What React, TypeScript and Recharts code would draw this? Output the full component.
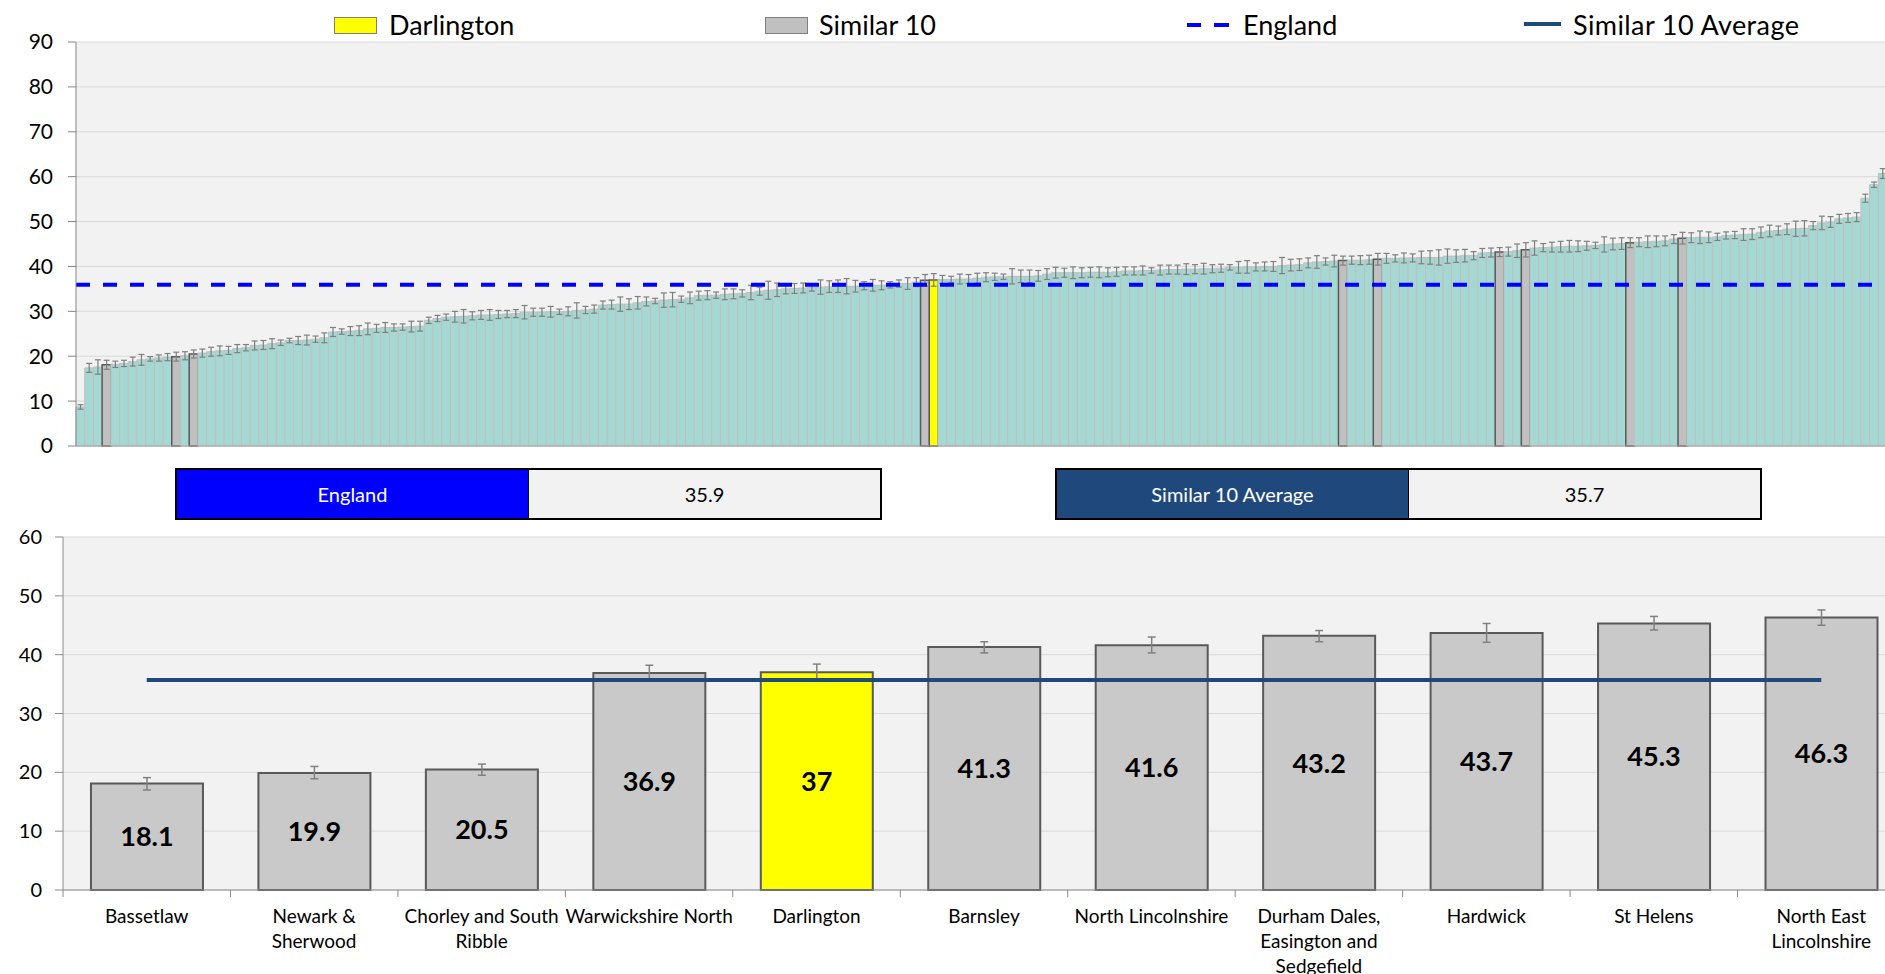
import {
  Bar,
  CartesianGrid,
  Cell,
  ComposedChart,
  ErrorBar,
  LabelList,
  Line,
  ReferenceLine,
  XAxis,
  YAxis,
} from 'recharts';

const englandValue = 35.9;
const similarAverage = 35.7;

// every area, sorted low to high
const allAreaValues = [
  8.7, 17.4, 17.6, 18.1, 18.2, 18.4, 18.8, 19.2, 19.4, 19.6,
  19.8, 19.9, 20.1, 20.5, 20.7, 21.0, 21.2, 21.3, 21.7, 21.9,
  22.4, 22.5, 22.8, 23.0, 23.5, 23.5, 23.6, 23.8, 24.1, 25.4,
  25.5, 25.6, 25.7, 26.1, 26.2, 26.4, 26.4, 26.5, 26.6, 26.7,
  28.0, 28.4, 28.7, 28.8, 28.9, 29.0, 29.2, 29.2, 29.3, 29.4,
  29.5, 29.8, 29.8, 29.8, 29.9, 29.9, 30.0, 30.2, 30.3, 30.5,
  31.4, 31.5, 31.6, 31.6, 31.9, 32.2, 32.3, 32.5, 32.6, 32.7,
  33.0, 33.5, 33.6, 33.6, 33.8, 33.9, 34.0, 34.2, 34.5, 34.7,
  34.8, 35.0, 35.1, 35.2, 35.3, 35.4, 35.5, 35.6, 35.6, 35.6,
  35.7, 35.8, 35.8, 35.9, 36.2, 36.2, 36.5, 36.9, 37.0, 37.1,
  37.1, 37.2, 37.2, 37.4, 37.6, 37.7, 37.7, 37.8, 37.8, 37.8,
  37.9, 38.3, 38.6, 38.6, 38.6, 38.6, 38.7, 38.7, 38.7, 38.8,
  39.0, 39.0, 39.1, 39.1, 39.2, 39.3, 39.3, 39.4, 39.4, 39.5,
  39.5, 39.6, 39.8, 39.8, 39.9, 39.9, 40.0, 40.0, 40.2, 40.3,
  40.4, 40.8, 41.0, 41.1, 41.2, 41.3, 41.4, 41.4, 41.5, 41.6,
  41.8, 41.8, 41.9, 41.9, 42.0, 42.0, 42.0, 42.3, 42.3, 42.4,
  42.4, 43.0, 43.1, 43.2, 43.3, 43.5, 43.7, 44.1, 44.2, 44.3,
  44.4, 44.5, 44.5, 44.6, 44.7, 44.9, 45.0, 45.1, 45.3, 45.4,
  45.5, 45.6, 45.7, 46.1, 46.3, 46.4, 46.5, 46.5, 46.6, 46.9,
  47.0, 47.1, 47.2, 47.6, 47.9, 48.0, 48.3, 48.4, 48.5, 49.1,
  49.7, 49.9, 50.6, 50.8, 51.0, 55.2, 58.2, 60.7,
];

// half width of the confidence interval for each area
const allAreaCi = [
  0.5, 1.0, 1.6, 1.0, 0.7, 0.7, 1.0, 1.2, 0.5, 0.7,
  0.8, 1.0, 0.9, 0.9, 0.9, 1.0, 1.1, 0.9, 0.9, 0.7,
  1.0, 1.0, 1.1, 0.6, 0.5, 0.9, 1.1, 0.7, 1.1, 1.0,
  0.6, 1.0, 1.1, 1.3, 0.9, 1.1, 0.8, 0.7, 1.2, 1.1,
  0.7, 0.7, 0.7, 1.2, 1.5, 0.9, 1.0, 1.2, 0.9, 0.8,
  0.9, 1.5, 0.9, 0.9, 1.2, 0.6, 1.0, 1.7, 0.8, 0.9,
  0.9, 1.0, 1.6, 1.2, 1.4, 1.0, 0.6, 1.6, 1.6, 0.7,
  1.3, 1.0, 1.0, 0.7, 1.2, 1.1, 0.8, 1.6, 0.9, 2.0,
  1.5, 1.1, 1.1, 1.1, 0.8, 1.6, 1.3, 1.4, 1.7, 1.3,
  0.9, 1.3, 1.0, 0.7, 0.8, 1.3, 1.0, 1.3, 1.4, 0.9,
  0.7, 1.1, 1.0, 1.1, 1.0, 0.8, 0.6, 1.7, 1.4, 1.4,
  1.2, 1.2, 1.2, 1.0, 1.3, 1.1, 1.1, 1.2, 1.0, 1.0,
  0.9, 0.9, 1.0, 0.6, 1.1, 1.0, 1.0, 1.2, 1.0, 1.2,
  0.9, 0.9, 0.6, 1.3, 1.4, 0.9, 1.0, 1.1, 1.8, 1.3,
  1.3, 1.1, 1.4, 0.8, 1.3, 1.0, 0.9, 1.0, 1.0, 1.3,
  1.1, 0.8, 1.1, 0.9, 1.4, 1.5, 1.7, 1.6, 1.4, 1.4,
  0.9, 1.0, 1.0, 1.0, 1.0, 1.5, 1.6, 1.6, 0.9, 1.1,
  1.2, 1.3, 1.2, 1.0, 0.7, 1.7, 1.3, 1.3, 1.1, 1.0,
  1.3, 1.2, 1.1, 1.0, 1.3, 1.1, 1.4, 1.2, 0.8, 0.8,
  0.8, 1.3, 1.2, 1.2, 1.3, 1.0, 1.2, 1.7, 1.7, 0.9,
  1.5, 1.2, 1.0, 1.0, 1.0, 0.9, 0.6, 1.1,
];

const similarRanks = [3, 11, 13, 97, 145, 149, 163, 166, 178, 184];
const darlingtonRank = 98;

const similarNames = [
  'Bassetlaw', 'Newark & Sherwood', 'Chorley and South Ribble', 'Warwickshire North',
  'Darlington', 'Barnsley', 'North Lincolnshire', 'Durham Dales, Easington and Sedgefield',
  'Hardwick', 'St Helens', 'North East Lincolnshire',
];
const similarTickLines = [
  ['Bassetlaw'], ['Newark &', 'Sherwood'], ['Chorley and South', 'Ribble'], ['Warwickshire North'],
  ['Darlington'], ['Barnsley'], ['North Lincolnshire'], ['Durham Dales,', 'Easington and', 'Sedgefield'],
  ['Hardwick'], ['St Helens'], ['North East', 'Lincolnshire'],
];
const similarValues = [18.1, 19.9, 20.5, 36.9, 37, 41.3, 41.6, 43.2, 43.7, 45.3, 46.3];
const similarLow = [17.0, 18.9, 19.5, 35.6, 35.6, 40.3, 40.3, 42.2, 42.1, 44.2, 45.0];
const similarHigh = [19.1, 21.0, 21.4, 38.2, 38.4, 42.2, 43.0, 44.1, 45.3, 46.5, 47.6];

const topTicks = [0, 10, 20, 30, 40, 50, 60, 70, 80, 90];
const bottomTicks = [0, 10, 20, 30, 40, 50, 60];

const TEAL = '#a5d8d2';
const GREY = '#c0c0c0';
const YELLOW = '#ffff00';
const NAVY = '#1f497d';
const FONT = 'Lato, sans-serif';

const BOTTOM_PLOT_W = 1842;

const topData = allAreaValues.map((v, i) => ({ rank: i + 1, value: v, err: allAreaCi[i] }));

const bottomData = similarNames.map((name, i) => ({
  name,
  value: similarValues[i],
  err: [
    +(similarValues[i] - similarLow[i]).toFixed(1),
    +(similarHigh[i] - similarValues[i]).toFixed(1),
  ],
  avg: similarAverage,
}));

function topFill(i: number) {
  if (i === darlingtonRank) return YELLOW;
  if (similarRanks.includes(i)) return GREY;
  return TEAL;
}

function CategoryTick({ x, y, index }: any) {
  const band = BOTTOM_PLOT_W / similarNames.length;
  const lines = similarTickLines[index] || [];
  return (
    <g>
      <line x1={x - band / 2} x2={x - band / 2} y1={y} y2={y + 7} stroke="#8c8c8c" />
      <text x={x} y={y + 33} textAnchor="middle" fontSize={19} fill="#000" fontFamily={FONT}>
        {lines.map((l, i) => (
          <tspan key={i} x={x} dy={i === 0 ? 0 : 25}>
            {l}
          </tspan>
        ))}
      </text>
    </g>
  );
}

function LegendRow() {
  const text = { position: 'absolute' as const, top: 8, fontSize: 27, lineHeight: '34px', color: '#000' };
  return (
    <>
      <div style={{ position: 'absolute', left: 334, top: 17, width: 41, height: 15, background: YELLOW, border: '1px solid #7f7f7f' }} />
      <div style={{ ...text, left: 389 }}>Darlington</div>
      <div style={{ position: 'absolute', left: 765, top: 17, width: 41, height: 15, background: GREY, border: '1px solid #7f7f7f' }} />
      <div style={{ ...text, left: 819 }}>Similar 10</div>
      <div style={{ position: 'absolute', left: 1187, top: 23, width: 14, height: 4, background: '#0000ff' }} />
      <div style={{ position: 'absolute', left: 1214, top: 23, width: 15, height: 4, background: '#0000ff' }} />
      <div style={{ ...text, left: 1243 }}>England</div>
      <div style={{ position: 'absolute', left: 1524, top: 22, width: 37, height: 4, background: NAVY }} />
      <div style={{ ...text, left: 1573, letterSpacing: 0.4 }}>Similar 10 Average</div>
    </>
  );
}

function SummaryBox({ left, label, value, color }: { left: number; label: string; value: number; color: string }) {
  const cell = { width: 351, height: 48, display: 'flex', alignItems: 'center', justifyContent: 'center', fontSize: 20 };
  return (
    <div style={{ position: 'absolute', left, top: 468, display: 'flex', border: '2px solid #000' }}>
      <div style={{ ...cell, background: color, color: '#fff', borderRight: '1px solid #000' }}>{label}</div>
      <div style={{ ...cell, background: '#f2f2f2', color: '#000' }}>{value}</div>
    </div>
  );
}

export default function App() {
  return (
    <div style={{ position: 'relative', width: 1885, height: 974, overflow: 'hidden', background: '#fff', fontFamily: FONT }}>
      <style>{'body{margin:0}'}</style>
      <LegendRow />

      <div style={{ position: 'absolute', left: 0, top: 0 }}>
        <ComposedChart
          width={1900}
          height={470}
          data={topData}
          margin={{ top: 42, right: 13, bottom: 20, left: 0 }}
          barCategoryGap={0}
          barGap={0}
          style={{ fontFamily: FONT }}
        >
          <CartesianGrid vertical={false} stroke="#d9d9d9" fill="#f2f2f2" />
          <XAxis dataKey="rank" tick={false} tickLine={false} height={4} axisLine={{ stroke: '#a6a6a6' }} />
          <YAxis
            domain={[0, 90]}
            ticks={topTicks}
            interval={0}
            width={76}
            tickSize={8}
            tickMargin={15}
            tick={{ fontSize: 21, fill: '#000' }}
            axisLine={{ stroke: '#868686' }}
            tickLine={{ stroke: '#868686' }}
          />
          <Bar dataKey="value" isAnimationActive={false}>
            {topData.map((d, i) => {
              const plain = topFill(i) === TEAL;
              return (
                <Cell
                  key={d.rank}
                  fill={topFill(i)}
                  stroke={plain ? '#bfbfbf' : '#595959'}
                  strokeWidth={plain ? 1 : 1.5}
                />
              );
            })}
            <ErrorBar dataKey="err" width={3} stroke="#7f7f7f" strokeWidth={1.2} />
          </Bar>
          <ReferenceLine y={englandValue} stroke="#0000ff" strokeWidth={4} strokeDasharray="14 13" />
        </ComposedChart>
      </div>

      <SummaryBox left={175} label="England" value={englandValue} color="#0000ff" />
      <SummaryBox left={1055} label="Similar 10 Average" value={similarAverage} color={NAVY} />

      <div style={{ position: 'absolute', left: 0, top: 520 }}>
        <ComposedChart
          width={1920}
          height={454}
          data={bottomData}
          margin={{ top: 17, right: 15, bottom: 0, left: 0 }}
          barCategoryGap="16.7%"
          style={{ fontFamily: FONT }}
        >
          <CartesianGrid vertical={false} stroke="#d9d9d9" fill="#f2f2f2" />
          <XAxis
            dataKey="name"
            interval={0}
            height={84}
            tickLine={false}
            tickSize={0}
            tickMargin={0}
            axisLine={{ stroke: '#8c8c8c' }}
            tick={(p: any) => <CategoryTick {...p} />}
          />
          <YAxis
            domain={[0, 60]}
            ticks={bottomTicks}
            interval={0}
            width={63}
            tickSize={8}
            tickMargin={13}
            tick={{ fontSize: 20, fill: '#000' }}
            axisLine={{ stroke: '#8c8c8c' }}
            tickLine={{ stroke: '#8c8c8c' }}
          />
          <Bar dataKey="value" isAnimationActive={false} stroke="#595959" strokeWidth={2}>
            {bottomData.map((d) => (
              <Cell key={d.name} fill={d.name === 'Darlington' ? YELLOW : '#c9c9c9'} />
            ))}
            <ErrorBar dataKey="err" width={4} stroke="#808080" strokeWidth={1.5} />
            <LabelList dataKey="value" position="center" fontSize={27} fontWeight="bold" fill="#000" />
          </Bar>
          <Line
            dataKey="avg"
            stroke={NAVY}
            strokeWidth={4}
            dot={false}
            activeDot={false}
            isAnimationActive={false}
          />
        </ComposedChart>
      </div>
    </div>
  );
}
